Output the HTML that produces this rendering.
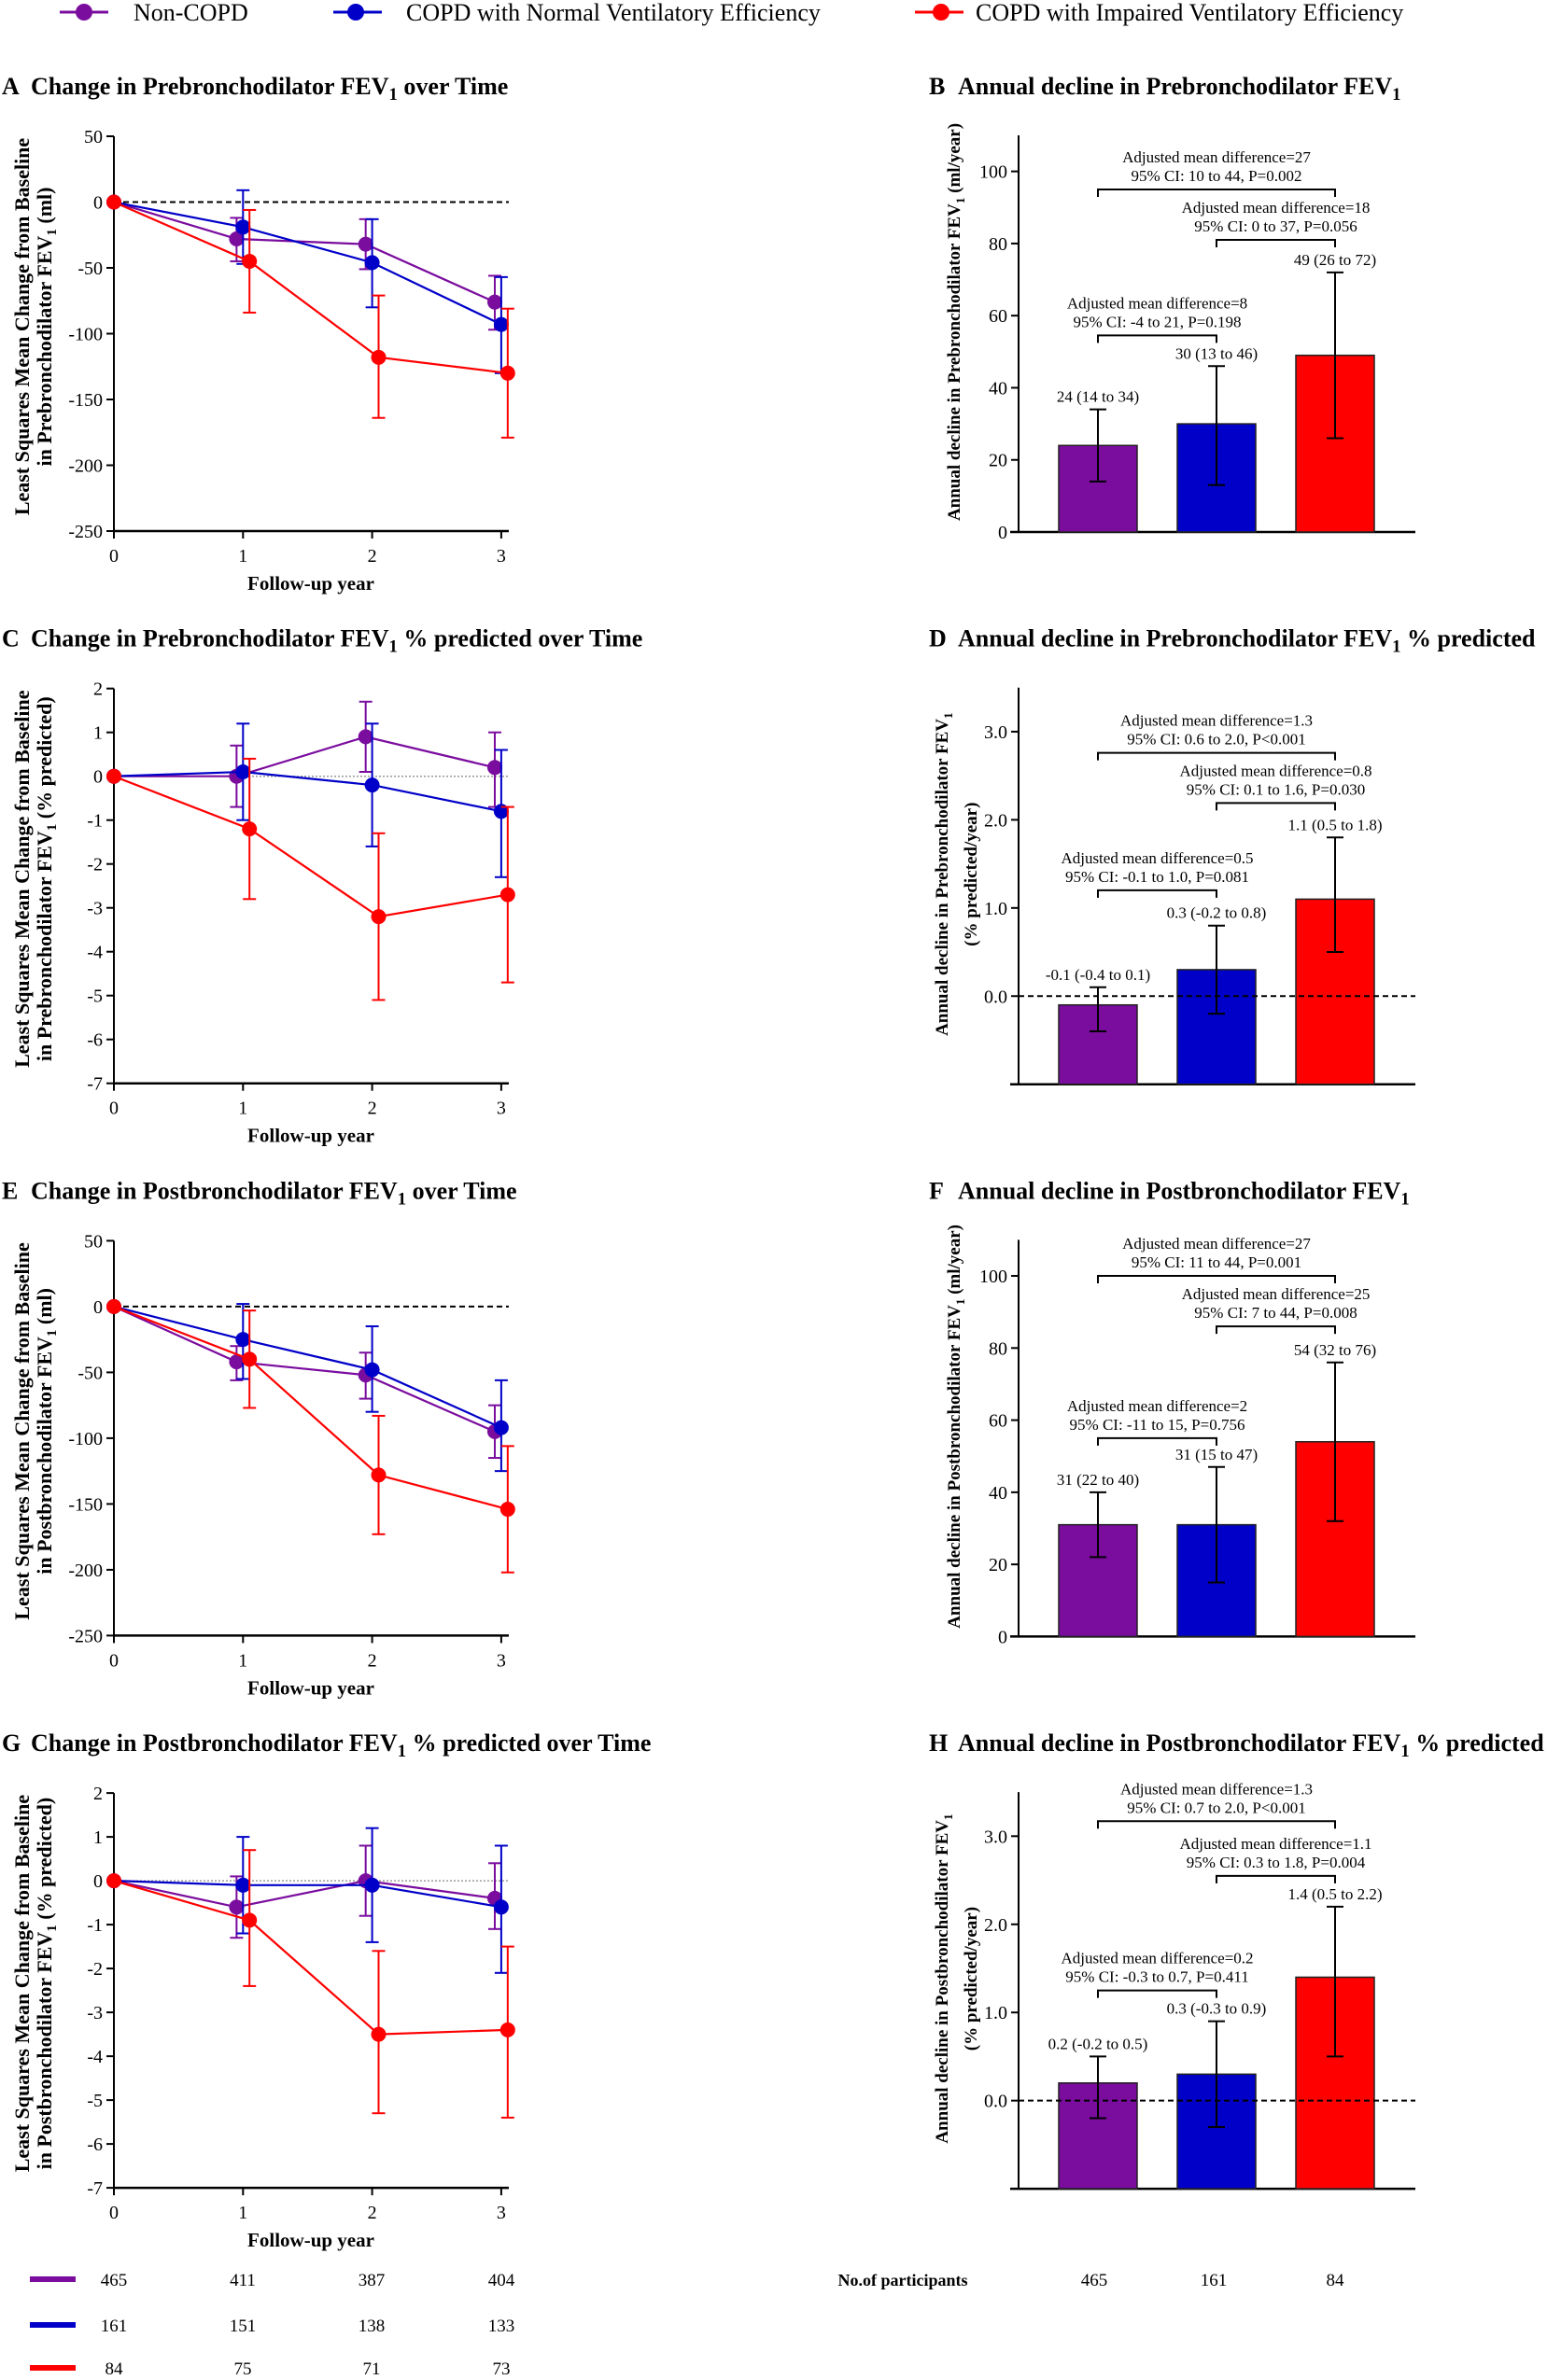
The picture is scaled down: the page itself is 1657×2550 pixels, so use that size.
<!DOCTYPE html>
<html><head><meta charset="utf-8"><style>
html,body{margin:0;padding:0;background:#fff;}
svg{display:block;font-family:"Liberation Serif",serif;}
</style></head><body>
<svg id="fig" xmlns="http://www.w3.org/2000/svg" width="1657" height="2550" viewBox="0 0 1657 2550"></svg>
<script>
// ---------- data ----------
const years = [0, 1, 2, 3];
const groupNames = ['Non-COPD', 'COPD with Normal Ventilatory Efficiency', 'COPD with Impaired Ventilatory Efficiency'];
// Panel A (ml)
const aNonMean = [0, -28, -32, -76], aNonLo = [0, -45, -51, -97], aNonHi = [0, -12, -13, -56];
const aNorMean = [0, -19, -46, -93], aNorLo = [0, -47, -80, -130], aNorHi = [0, 9, -13, -57];
const aImpMean = [0, -45, -118, -130], aImpLo = [0, -84, -164, -179], aImpHi = [0, -6, -71, -81];
// Panel C (% predicted)
const cNonMean = [0, 0, 0.9, 0.2], cNonLo = [0, -0.7, 0.1, -0.7], cNonHi = [0, 0.7, 1.7, 1.0];
const cNorMean = [0, 0.1, -0.2, -0.8], cNorLo = [0, -1.0, -1.6, -2.3], cNorHi = [0, 1.2, 1.2, 0.6];
const cImpMean = [0, -1.2, -3.2, -2.7], cImpLo = [0, -2.8, -5.1, -4.7], cImpHi = [0, 0.4, -1.3, -0.7];
// Panel E (ml)
const eNonMean = [0, -42, -52, -95], eNonLo = [0, -56, -70, -115], eNonHi = [0, -30, -35, -75];
const eNorMean = [0, -25, -48, -92], eNorLo = [0, -55, -80, -125], eNorHi = [0, 2, -15, -56];
const eImpMean = [0, -40, -128, -154], eImpLo = [0, -77, -173, -202], eImpHi = [0, -3, -83, -106];
// Panel G (% predicted)
const gNonMean = [0, -0.6, 0, -0.4], gNonLo = [0, -1.3, -0.8, -1.1], gNonHi = [0, 0.1, 0.8, 0.4];
const gNorMean = [0, -0.1, -0.1, -0.6], gNorLo = [0, -1.2, -1.4, -2.1], gNorHi = [0, 1.0, 1.2, 0.8];
const gImpMean = [0, -0.9, -3.5, -3.4], gImpLo = [0, -2.4, -5.3, -5.4], gImpHi = [0, 0.7, -1.6, -1.5];
// bar panels
const bMean = [24, 30, 49], bLo = [14, 13, 26], bHi = [34, 46, 72];
const bLabels = ['24 (14 to 34)', '30 (13 to 46)', '49 (26 to 72)'];
const bBrLevel = [95, 81, 54.5];
const bBrL1 = ['Adjusted mean difference=27', 'Adjusted mean difference=18', 'Adjusted mean difference=8'];
const bBrL2 = ['95% CI: 10 to 44, P=0.002', '95% CI: 0 to 37, P=0.056', '95% CI: -4 to 21, P=0.198'];
const dMean = [-0.1, 0.3, 1.1], dLo = [-0.4, -0.2, 0.5], dHi = [0.1, 0.8, 1.8];
const dLabels = ['-0.1 (-0.4 to 0.1)', '0.3 (-0.2 to 0.8)', '1.1 (0.5 to 1.8)'];
const dBrLevel = [2.76, 2.19, 1.2];
const dBrL1 = ['Adjusted mean difference=1.3', 'Adjusted mean difference=0.8', 'Adjusted mean difference=0.5'];
const dBrL2 = ['95% CI: 0.6 to 2.0, P<0.001', '95% CI: 0.1 to 1.6, P=0.030', '95% CI: -0.1 to 1.0, P=0.081'];
const fMean = [31, 31, 54], fLo = [22, 15, 32], fHi = [40, 47, 76];
const fLabels = ['31 (22 to 40)', '31 (15 to 47)', '54 (32 to 76)'];
const fBrLevel = [100, 86, 55];
const fBrL1 = ['Adjusted mean difference=27', 'Adjusted mean difference=25', 'Adjusted mean difference=2'];
const fBrL2 = ['95% CI: 11 to 44, P=0.001', '95% CI: 7 to 44, P=0.008', '95% CI: -11 to 15, P=0.756'];
const hMean = [0.2, 0.3, 1.4], hLo = [-0.2, -0.3, 0.5], hHi = [0.5, 0.9, 2.2];
const hLabels = ['0.2 (-0.2 to 0.5)', '0.3 (-0.3 to 0.9)', '1.4 (0.5 to 2.2)'];
const hBrLevel = [3.17, 2.55, 1.25];
const hBrL1 = ['Adjusted mean difference=1.3', 'Adjusted mean difference=1.1', 'Adjusted mean difference=0.2'];
const hBrL2 = ['95% CI: 0.7 to 2.0, P<0.001', '95% CI: 0.3 to 1.8, P=0.004', '95% CI: -0.3 to 0.7, P=0.411'];
// participants
const nNon = [465, 411, 387, 404], nNor = [161, 151, 138, 133], nImp = [84, 75, 71, 73];
const nBar = [465, 161, 84];
const mlTicks = [50, 0, -50, -100, -150, -200, -250];
const pctTicks = [2, 1, 0, -1, -2, -3, -4, -5, -6, -7];
const barMlTicks = [0, 20, 40, 60, 80, 100];
const barPctTicks = [0, 1, 2, 3];

// ---------- drawing ----------
const NS = 'http://www.w3.org/2000/svg';
const svg = document.getElementById('fig');
const COL = ['#7A0C9E', '#0000C8', '#FF0000'];
const OFFS = [-0.05, 0, 0.05];
function mk(tag, parent, attrs) {
  const e = document.createElementNS(NS, tag);
  for (const k in attrs) e.setAttribute(k, attrs[k]);
  (parent || svg).appendChild(e);
  return e;
}
function txt(parent, x, y, s, size, weight, anchor, extra) {
  const t = mk('text', parent, Object.assign({x: x, y: y, 'font-size': size, 'font-weight': weight || 'normal', 'text-anchor': anchor || 'start', fill: '#000'}, extra || {}));
  t.textContent = s;
  return t;
}
function titleWithSub(parent, x, y, letter, pre, post, size) {
  const t = mk('text', parent, {x: x, y: y, 'font-size': size, 'font-weight': 'bold', fill: '#000'});
  
  
  const l = mk('tspan', t, {}); l.textContent = letter;
  const a = mk('tspan', t, {x: x + 31}); a.textContent = pre;
  const b = mk('tspan', t, {dy: 6, 'font-size': size * 0.72}); b.textContent = '1';
  const c = mk('tspan', t, {dy: -6}); c.textContent = post;
  return t;
}

// legend
const legend = mk('g', svg, {});


const legX = [[64, 90, 143], [357, 381, 435], [980, 1008, 1045]];
for (let i = 0; i < 3; i++) {
  const g = mk('g', legend, {});
  
  
  mk('line', g, {x1: legX[i][0], x2: legX[i][0] + 52, y1: 13, y2: 13, stroke: COL[i], 'stroke-width': 3});
  mk('circle', g, {cx: legX[i][1], cy: 13, r: 9, fill: COL[i]});
  txt(g, legX[i][2], 22, groupNames[i], 26, 'normal', 'start');
}

function linePanel(name, oy, lo, hi, ticks, zeroStyle, series, tLetter, tPre, tPost, yl1, yl2) {
  const g = mk('g', svg, {});
  
  
  const X = yr => 122 + yr * 138.3;
  const Y = v => oy + 146 + (hi - v) / (hi - lo) * 423;
  titleWithSub(g, 2, oy + 101, tLetter, 'Change in ' + tPre, tPost, 26);
  mk('line', g, {x1: 122, x2: 122, y1: Y(hi), y2: Y(lo), stroke: '#000', 'stroke-width': 2});
  mk('line', g, {x1: 121, x2: 545, y1: Y(lo), y2: Y(lo), stroke: '#000', 'stroke-width': 2.5});
  ticks.forEach(v => {
    mk('line', g, {x1: 114, x2: 122, y1: Y(v), y2: Y(v), stroke: '#000', 'stroke-width': 2});
    txt(g, 110, Y(v) + 7, String(v), 20, 'normal', 'end');
  });
  years.forEach(yr => {
    mk('line', g, {x1: X(yr), x2: X(yr), y1: Y(lo), y2: Y(lo) + 8, stroke: '#000', 'stroke-width': 2});
    txt(g, X(yr), Y(lo) + 33, String(yr), 20, 'normal', 'middle');
  });
  const xt = txt(g, 333, oy + 632, 'Follow-up year', 21, 'bold', 'middle');
  
  
  const yt = mk('text', g, {transform: 'translate(31,' + (oy + 350) + ') rotate(-90)', 'font-size': 22, 'font-weight': 'bold', 'text-anchor': 'middle'});
  
  
  const l1 = mk('tspan', yt, {x: 0, dy: 0}); l1.textContent = yl1;
  const l2 = mk('tspan', yt, {x: 0, dy: 24}); l2.textContent = yl2[0];
  const l2s = mk('tspan', yt, {dy: 5, 'font-size': 15}); l2s.textContent = '1';
  const l2b = mk('tspan', yt, {dy: -5}); l2b.textContent = yl2[1];
  if (zeroStyle === 'dash') mk('line', g, {x1: 122, x2: 545, y1: Y(0), y2: Y(0), stroke: '#000', 'stroke-width': 2, 'stroke-dasharray': '6,4'});
  else mk('line', g, {x1: 122, x2: 545, y1: Y(0), y2: Y(0), stroke: '#999', 'stroke-width': 1.5, 'stroke-dasharray': '2,2'});
  series.forEach((s, si) => {
    const sg = mk('g', g, {});
    
    
    const px = years.map(yr => X(yr + (yr > 0 ? OFFS[si] : 0)));
    mk('polyline', sg, {points: years.map((yr, i) => px[i] + ',' + Y(s[0][i])).join(' '), fill: 'none', stroke: COL[si], 'stroke-width': 2.2});
    years.forEach((yr, i) => {
      if (yr > 0) {
        mk('line', sg, {x1: px[i], x2: px[i], y1: Y(s[1][i]), y2: Y(s[2][i]), stroke: COL[si], 'stroke-width': 2});
        mk('line', sg, {x1: px[i] - 7, x2: px[i] + 7, y1: Y(s[1][i]), y2: Y(s[1][i]), stroke: COL[si], 'stroke-width': 2});
        mk('line', sg, {x1: px[i] - 7, x2: px[i] + 7, y1: Y(s[2][i]), y2: Y(s[2][i]), stroke: COL[si], 'stroke-width': 2});
      }
    });
    years.forEach((yr, i) => {
      const c = mk('circle', sg, {cx: px[i], cy: Y(s[0][i]), r: 8, fill: COL[si]});
      
      
    });
  });
}

function barPanel(name, oy, lo, hi, zeroLine, ticks, tickFmt, mean, elo, ehi, labels, brLevel, brL1, brL2, tLetter, tPre, tPost, ylines) {
  const g = mk('g', svg, {});
  
  
  const Y = v => oy + 145 + (hi - v) / (hi - lo) * 425;
  const cx = [1176, 1303, 1430];
  titleWithSub(g, 995, oy + 101, tLetter, 'Annual decline in ' + tPre, tPost, 26);
  mk('line', g, {x1: 1091, x2: 1091, y1: Y(hi), y2: Y(lo), stroke: '#000', 'stroke-width': 2});
  mk('line', g, {x1: 1082, x2: 1516, y1: Y(lo), y2: Y(lo), stroke: '#000', 'stroke-width': 2.5});
  ticks.forEach(v => {
    mk('line', g, {x1: 1083, x2: 1091, y1: Y(v), y2: Y(v), stroke: '#000', 'stroke-width': 2});
    txt(g, 1079, Y(v) + 7, tickFmt(v), 20, 'normal', 'end');
  });
  const yt = mk('text', g, {transform: 'translate(' + (ylines.length === 1 ? 1028 : 1015) + ',' + (oy + 345) + ') rotate(-90)', 'font-size': 19, 'font-weight': 'bold', 'text-anchor': 'middle'});
  
  
  const a = mk('tspan', yt, {x: 0, dy: 0}); a.textContent = ylines[0][0];
  const s = mk('tspan', yt, {dy: 5, 'font-size': 13}); s.textContent = '1';
  const b = mk('tspan', yt, {dy: -5}); b.textContent = ylines[0][1];
  if (ylines.length > 1) { const c = mk('tspan', yt, {x: 0, dy: 26}); c.textContent = ylines[1]; }
  mean.forEach((m, i) => {
    const top = Math.min(Y(m), Y(lo)), h = Math.abs(Y(lo) - Y(m));
    const r = mk('rect', g, {x: cx[i] - 42, y: top, width: 84, height: h, fill: COL[i], stroke: '#222', 'stroke-width': 1.5});
    
    
  });
  if (zeroLine) mk('line', g, {x1: 1091, x2: 1516, y1: Y(0), y2: Y(0), stroke: '#000', 'stroke-width': 2, 'stroke-dasharray': '6,4'});
  mean.forEach((m, i) => {
    mk('line', g, {x1: cx[i], x2: cx[i], y1: Y(elo[i]), y2: Y(ehi[i]), stroke: '#000', 'stroke-width': 2});
    mk('line', g, {x1: cx[i] - 9, x2: cx[i] + 9, y1: Y(elo[i]), y2: Y(elo[i]), stroke: '#000', 'stroke-width': 2});
    mk('line', g, {x1: cx[i] - 9, x2: cx[i] + 9, y1: Y(ehi[i]), y2: Y(ehi[i]), stroke: '#000', 'stroke-width': 2});
    const vl = txt(g, cx[i], Y(ehi[i]) - 8, labels[i], 17, 'normal', 'middle');
    
    
  });
  const pairs = [[0, 2], [1, 2], [0, 1]];
  pairs.forEach((p, k) => {
    const x1 = cx[p[0]], x2 = cx[p[1]], y = Y(brLevel[k]);
    mk('polyline', g, {points: x1 + ',' + (y + 8) + ' ' + x1 + ',' + y + ' ' + x2 + ',' + y + ' ' + x2 + ',' + (y + 8), fill: 'none', stroke: '#000', 'stroke-width': 2});
    txt(g, (x1 + x2) / 2, y - 29, brL1[k], 17, 'normal', 'middle');
    txt(g, (x1 + x2) / 2, y - 9, brL2[k], 17, 'normal', 'middle');
  });
}

const dy = 591.7;
const mlYT = 'Least Squares Mean Change from Baseline';
linePanel('panel-a', 0, -250, 50, mlTicks, 'dash',
  [[aNonMean, aNonLo, aNonHi], [aNorMean, aNorLo, aNorHi], [aImpMean, aImpLo, aImpHi]],
  'A', 'Prebronchodilator FEV', ' over Time', mlYT, ['in Prebronchodilator FEV', ' (ml)']);
linePanel('panel-c', dy, -7, 2, pctTicks, 'dot',
  [[cNonMean, cNonLo, cNonHi], [cNorMean, cNorLo, cNorHi], [cImpMean, cImpLo, cImpHi]],
  'C', 'Prebronchodilator FEV', ' % predicted over Time', mlYT, ['in Prebronchodilator FEV', ' (% predicted)']);
linePanel('panel-e', 2 * dy, -250, 50, mlTicks, 'dash',
  [[eNonMean, eNonLo, eNonHi], [eNorMean, eNorLo, eNorHi], [eImpMean, eImpLo, eImpHi]],
  'E', 'Postbronchodilator FEV', ' over Time', mlYT, ['in Postbronchodilator FEV', ' (ml)']);
linePanel('panel-g', 3 * dy, -7, 2, pctTicks, 'dot',
  [[gNonMean, gNonLo, gNonHi], [gNorMean, gNorLo, gNorHi], [gImpMean, gImpLo, gImpHi]],
  'G', 'Postbronchodilator FEV', ' % predicted over Time', mlYT, ['in Postbronchodilator FEV', ' (% predicted)']);
barPanel('panel-b', 0, 0, 110, false, barMlTicks, v => String(v), bMean, bLo, bHi, bLabels, bBrLevel, bBrL1, bBrL2,
  'B', 'Prebronchodilator FEV', '', [['Annual decline in Prebronchodilator FEV', ' (ml/year)']]);
barPanel('panel-d', dy, -1, 3.5, true, barPctTicks, v => v.toFixed(1), dMean, dLo, dHi, dLabels, dBrLevel, dBrL1, dBrL2,
  'D', 'Prebronchodilator FEV', ' % predicted', [['Annual decline in Prebronchodilator FEV', ''], '(% predicted/year)']);
barPanel('panel-f', 2 * dy, 0, 110, false, barMlTicks, v => String(v), fMean, fLo, fHi, fLabels, fBrLevel, fBrL1, fBrL2,
  'F', 'Postbronchodilator FEV', '', [['Annual decline in Postbronchodilator FEV', ' (ml/year)']]);
barPanel('panel-h', 3 * dy, -1, 3.5, true, barPctTicks, v => v.toFixed(1), hMean, hLo, hHi, hLabels, hBrLevel, hBrL1, hBrL2,
  'H', 'Postbronchodilator FEV', ' % predicted', [['Annual decline in Postbronchodilator FEV', ''], '(% predicted/year)']);

// participants table
const tbl = mk('g', svg, {});


const rowsN = [nNon, nNor, nImp];
const rowY = [2442, 2491, 2537];
const colX = [122, 260, 398, 537];
rowsN.forEach((row, r) => {
  mk('rect', tbl, {x: 32, y: rowY[r] - 3, width: 49, height: 6, fill: COL[r]});
  row.forEach((n, c) => txt(tbl, colX[c], rowY[r] + 7, String(n), 19, 'normal', 'middle'));
});
txt(tbl, 967, 2449, 'No.of participants', 18, 'bold', 'middle');
const barCX = [1172, 1300, 1430];
nBar.forEach((n, i) => txt(tbl, barCX[i], 2449, String(n), 19, 'normal', 'middle'));
</script>
</body></html>
